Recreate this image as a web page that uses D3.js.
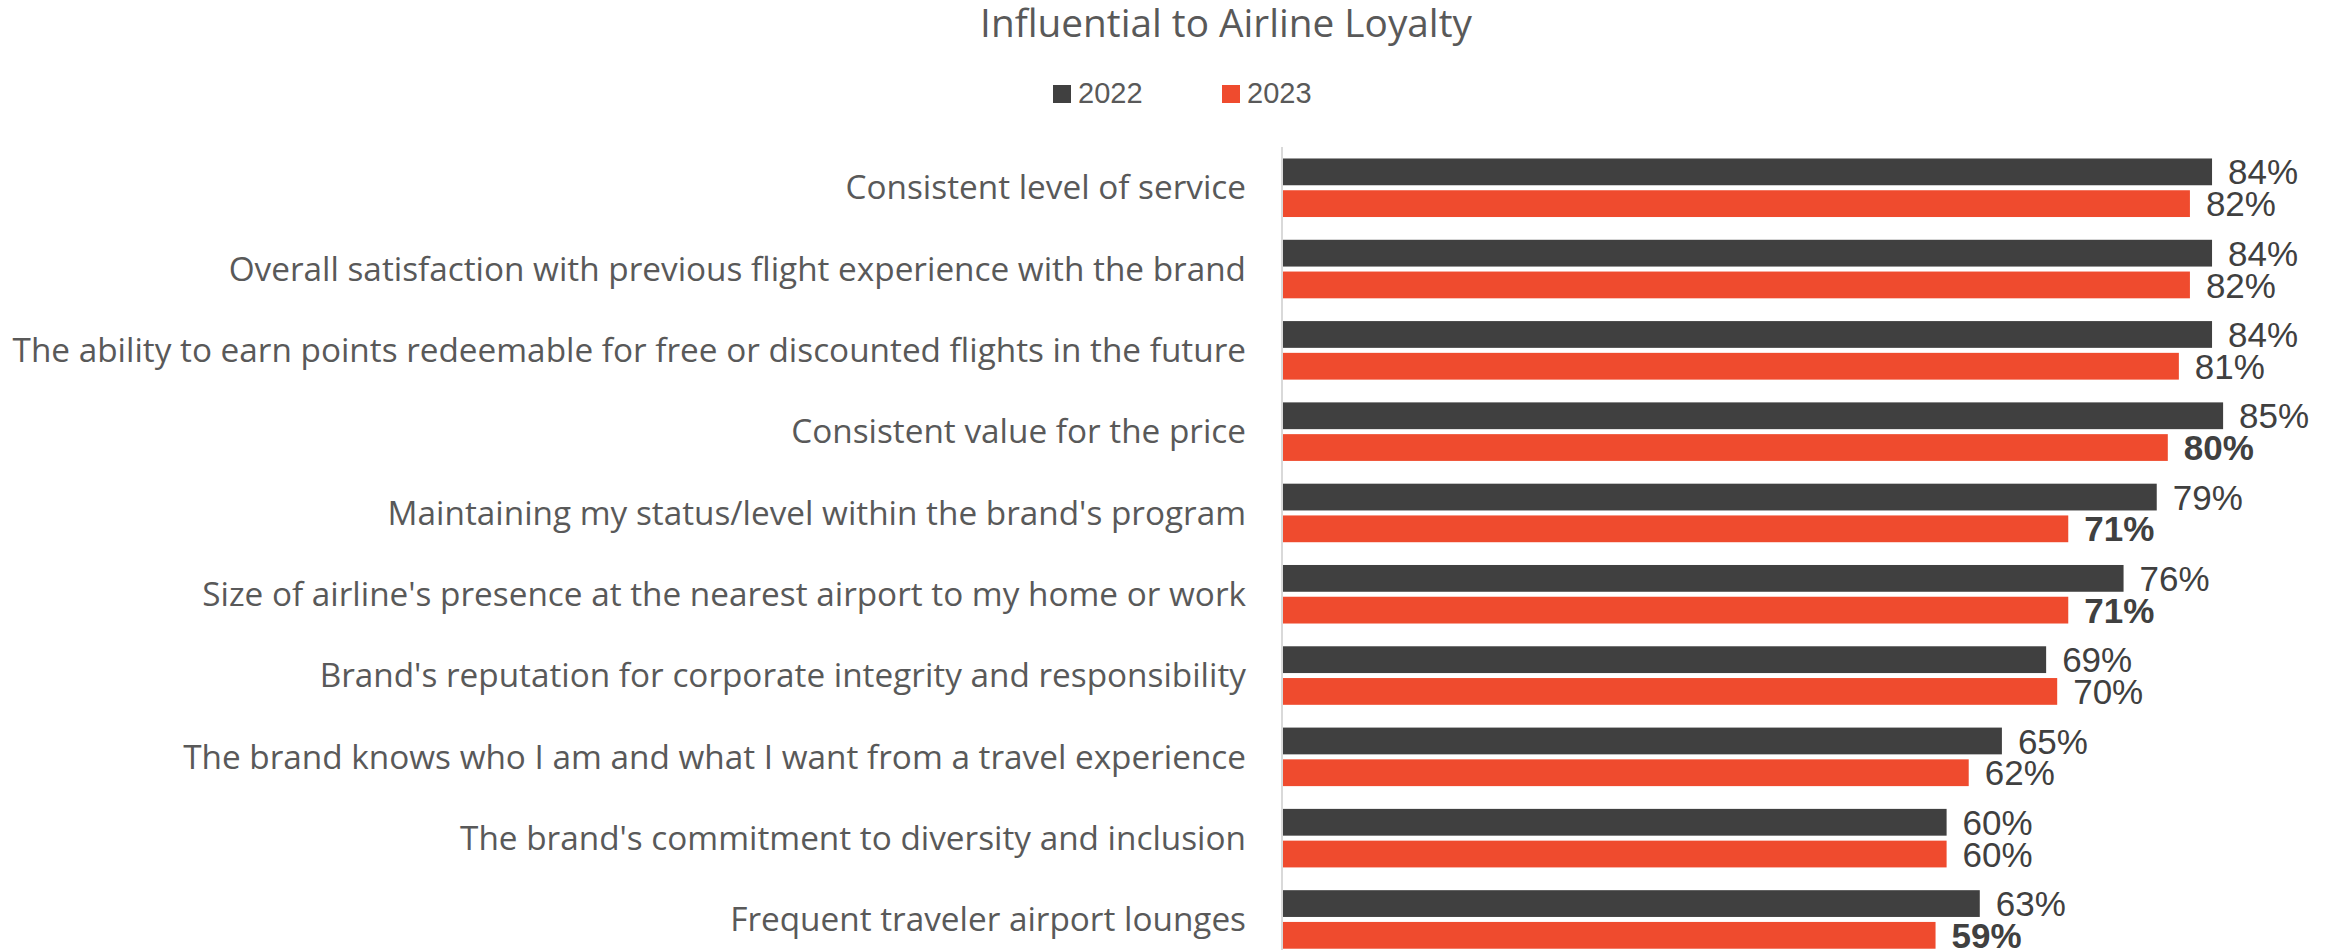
<!DOCTYPE html>
<html>
<head>
<meta charset="utf-8">
<script src="https://cdn.jsdelivr.net/npm/d3@7"></script>
<style>
  html, body { margin: 0; padding: 0; background: #ffffff; }
  svg { display: block; }
</style>
</head>
<body>
<svg id="chart" width="2336" height="950"></svg>
<script>
const title = "Influential to Airline Loyalty";
const categories = [
  "Consistent level of service",
  "Overall satisfaction with previous flight experience with the brand",
  "The ability to earn points redeemable for free or discounted flights in the future",
  "Consistent value for the price",
  "Maintaining my status/level within the brand's program",
  "Size of airline's presence at the nearest airport to my home or work",
  "Brand's reputation for corporate integrity and responsibility",
  "The brand knows who I am and what I want from a travel experience",
  "The brand's commitment to diversity and inclusion",
  "Frequent traveler airport lounges"
];
const seriesNames = ["2022", "2023"];
const values2022 = [84, 84, 84, 85, 79, 76, 69, 65, 60, 63];
const values2023 = [82, 82, 81, 80, 71, 71, 70, 62, 60, 59];
const bold2023 = [false, false, false, true, true, true, false, false, false, true];
const colors = ["#404040", "#EF4B2E"];

const svg = d3.select("#chart");
const W = 2336, H = 950;

const x = d3.scaleLinear().domain([0, 100]).range([1283, 1283 + 1106]);
const y0 = d3.scaleBand().domain(categories).range([147.1, 960.1])
  .paddingInner(0.28).paddingOuter(0.14);
const y1 = d3.scaleBand().domain(seriesNames).range([0, y0.bandwidth()])
  .paddingInner(0.157).paddingOuter(0);
const color = d3.scaleOrdinal().domain(seriesNames).range(colors);

const rows = categories.map((c, i) => ({
  cat: c,
  vals: [
    { s: seriesNames[0], v: values2022[i], bold: false },
    { s: seriesNames[1], v: values2023[i], bold: bold2023[i] }
  ]
}));

// Title
const titleText = svg.append("text")
  .attr("x", 1226).attr("y", 37)
  .attr("text-anchor", "middle")
  .attr("font-family", "'Open Sans', sans-serif")
  .attr("font-size", 30)
  .attr("fill", "#595959")
  .text(title);
const tw = titleText.node().getComputedTextLength();
titleText.attr("font-size", 30 * 492 / tw);

// Legend
const legendX = [1053, 1222];
const lg = svg.append("g");
seriesNames.forEach((s, i) => {
  lg.append("rect").attr("x", legendX[i]).attr("y", 85).attr("width", 18).attr("height", 18)
    .attr("fill", color(s));
  lg.append("text").attr("x", legendX[i] + 25).attr("y", 103)
    .attr("font-family", "'Liberation Sans', Arial, sans-serif")
    .attr("font-size", 29).attr("fill", "#595959").text(s);
});

// Axis line (category axis)
const yAxis = d3.axisLeft(y0).tickSize(0).tickPadding(36);
const ax = svg.append("g").attr("transform", `translate(${x(0) - 1},0)`).call(yAxis);
ax.select(".domain").attr("stroke", "#d9d9d9").attr("stroke-width", 2)
  .attr("d", `M0,${y0.range()[0]}V${H}`);
ax.selectAll(".tick text")
  .attr("font-family", "'Open Sans', sans-serif")
  .attr("font-size", 30)
  .attr("fill", "#595959")
  .attr("dy", "0.35em");

// fit label width so longest spans reference width
let maxW = 0;
ax.selectAll(".tick text").each(function() { maxW = Math.max(maxW, this.getComputedTextLength()); });
const fs = 30 * 1234 / maxW;
ax.selectAll(".tick text").attr("font-size", fs);

// Bars
const groups = svg.append("g").selectAll("g").data(rows).join("g")
  .attr("transform", d => `translate(0,${y0(d.cat)})`);

groups.selectAll("rect").data(d => d.vals).join("rect")
  .attr("x", x(0))
  .attr("y", d => y1(d.s))
  .attr("width", d => x(d.v) - x(0))
  .attr("height", y1.bandwidth())
  .attr("fill", d => color(d.s));

groups.selectAll("text").data(d => d.vals).join("text")
  .attr("x", d => x(d.v) + 16)
  .attr("y", d => y1(d.s) + y1.bandwidth() / 2)
  .attr("dy", "0.36em")
  .attr("font-family", "'Liberation Sans', Arial, sans-serif")
  .attr("font-size", 35)
  .attr("font-weight", d => d.bold ? "bold" : "normal")
  .attr("fill", "#404040")
  .text(d => d.v + "%");
</script>
</body>
</html>
